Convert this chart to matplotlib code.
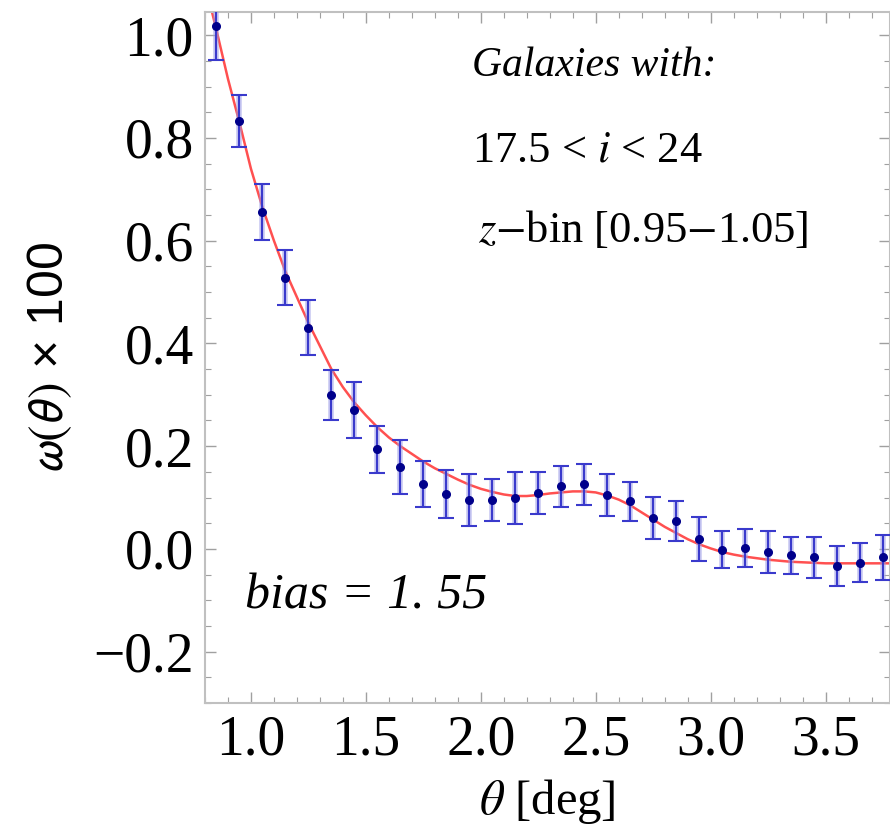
import numpy as np
import matplotlib
matplotlib.use("Agg")
import matplotlib.pyplot as plt
from matplotlib.ticker import MultipleLocator

# ---- data ----
theta = [0.85, 0.95, 1.05, 1.15, 1.25, 1.35, 1.45, 1.55, 1.65, 1.75,
         1.85, 1.95, 2.05, 2.15, 2.25, 2.35, 2.45, 2.55, 2.65, 2.75,
         2.85, 2.95, 3.05, 3.15, 3.25, 3.35, 3.45, 3.55, 3.65, 3.75]
w_obs = [1.017, 0.833, 0.656, 0.528, 0.431, 0.299, 0.270, 0.194, 0.159, 0.126,
         0.107, 0.095, 0.095, 0.099, 0.109, 0.122, 0.126, 0.105, 0.093, 0.060,
         0.054, 0.019, -0.002, 0.002, -0.006, -0.012, -0.016, -0.033, -0.027, -0.016]
w_err = [0.066, 0.050, 0.055, 0.053, 0.054, 0.049, 0.055, 0.046, 0.053, 0.045,
         0.047, 0.051, 0.041, 0.050, 0.041, 0.040, 0.040, 0.040, 0.038, 0.041,
         0.039, 0.043, 0.036, 0.037, 0.040, 0.036, 0.040, 0.039, 0.038, 0.044]

model_theta = [0.80, 0.85, 0.90, 0.95, 1.00, 1.05, 1.10, 1.15, 1.20, 1.25,
               1.30, 1.35, 1.40, 1.45, 1.50, 1.55, 1.60, 1.65, 1.70, 1.75,
               1.80, 1.85, 1.90, 1.95, 2.00, 2.05, 2.10, 2.15, 2.20, 2.25,
               2.30, 2.35, 2.40, 2.45, 2.50, 2.55, 2.60, 2.65, 2.70, 2.75,
               2.80, 2.85, 2.90, 2.95, 3.00, 3.05, 3.10, 3.15, 3.20, 3.25,
               3.30, 3.35, 3.40, 3.45, 3.50, 3.55, 3.60, 3.65, 3.70, 3.75, 3.80]
model_w = [1.10, 1.01, 0.915, 0.83, 0.74, 0.665, 0.60, 0.54, 0.49, 0.44,
           0.395, 0.35, 0.315, 0.285, 0.26, 0.237, 0.217, 0.20, 0.185, 0.17,
           0.157, 0.146, 0.135, 0.125, 0.117, 0.111, 0.106, 0.103, 0.103, 0.105,
           0.108, 0.110, 0.112, 0.112, 0.110, 0.104, 0.096, 0.085, 0.071, 0.057,
           0.043, 0.031, 0.019, 0.009, 0.001, -0.006, -0.011, -0.015, -0.018, -0.021,
           -0.023, -0.025, -0.026, -0.027, -0.028, -0.028, -0.028, -0.028, -0.028, -0.028, -0.028]

xticks = [1.0, 1.5, 2.0, 2.5, 3.0, 3.5]
yticks = [-0.2, 0.0, 0.2, 0.4, 0.6, 0.8, 1.0]

plt.rcParams['mathtext.fontset'] = 'stix'
SERIF = 'Liberation Serif'

fig = plt.figure(figsize=(8.9, 8.36), dpi=100)
ax = fig.add_axes([0.2303, 0.159, 0.7697, 0.8266])

ax.plot(model_theta, model_w, color='#ff5050', lw=1.8, zorder=2)
# light wide band behind error bars, then thin dark line
ax.errorbar(theta, w_obs, yerr=w_err, fmt='none', ecolor='#9a9ae6', elinewidth=4,
            capsize=0, alpha=0.55, zorder=3)
ax.errorbar(theta, w_obs, yerr=w_err, fmt='o', color='#00008b', ms=5.5,
            ecolor='#3a3acc', elinewidth=1.5, capsize=6, capthick=1.5, zorder=4)

ax.set_xlim(0.8, 3.78)
ax.set_ylim(-0.30, 1.045)
ax.set_xticks(xticks)
ax.set_yticks(yticks)
ax.xaxis.set_minor_locator(MultipleLocator(0.1))
ax.yaxis.set_minor_locator(MultipleLocator(0.05))
ax.set_xticklabels([f"{v:.1f}" for v in xticks])
ax.set_yticklabels([f"{v:.1f}".replace('-', '\u2212') for v in yticks])

for sp in ax.spines.values():
    sp.set_color('#c0c0c0')
    sp.set_linewidth(1.5)
ax.tick_params(which='both', direction='in', top=True, right=True, color='#a0a0a0')
ax.tick_params(which='major', length=8, width=1.0, pad=8, labelsize=40)
ax.tick_params(which='minor', length=4, width=0.8)
for lab in ax.get_xticklabels() + ax.get_yticklabels():
    lab.set_family(SERIF)

ax.set_xlabel(r'$\theta$ [deg]', family=SERIF, fontsize=35, labelpad=8)
ax.set_ylabel(r'$\omega(\theta)$ × 100', family='Liberation Sans', fontsize=36,
              labelpad=14, math_fontfamily='stixsans')

ax.text(0.39, 0.922, 'Galaxies with:', transform=ax.transAxes, family=SERIF,
        style='italic', fontsize=30, ha='left', va='center')
ax.text(0.39, 0.80, r'17.5 < $i$ < 24', transform=ax.transAxes, family=SERIF,
        fontsize=32, ha='left', va='center')
ax.text(0.398, 0.684, r'$z$$-$bin [0.95$-$1.05]', transform=ax.transAxes, family=SERIF,
        fontsize=32, ha='left', va='center')
ax.text(1.50, -0.093, 'bias = 1. 55', family=SERIF, style='italic',
        fontsize=36, ha='center', va='center')

fig.savefig('out.png', dpi=100)
